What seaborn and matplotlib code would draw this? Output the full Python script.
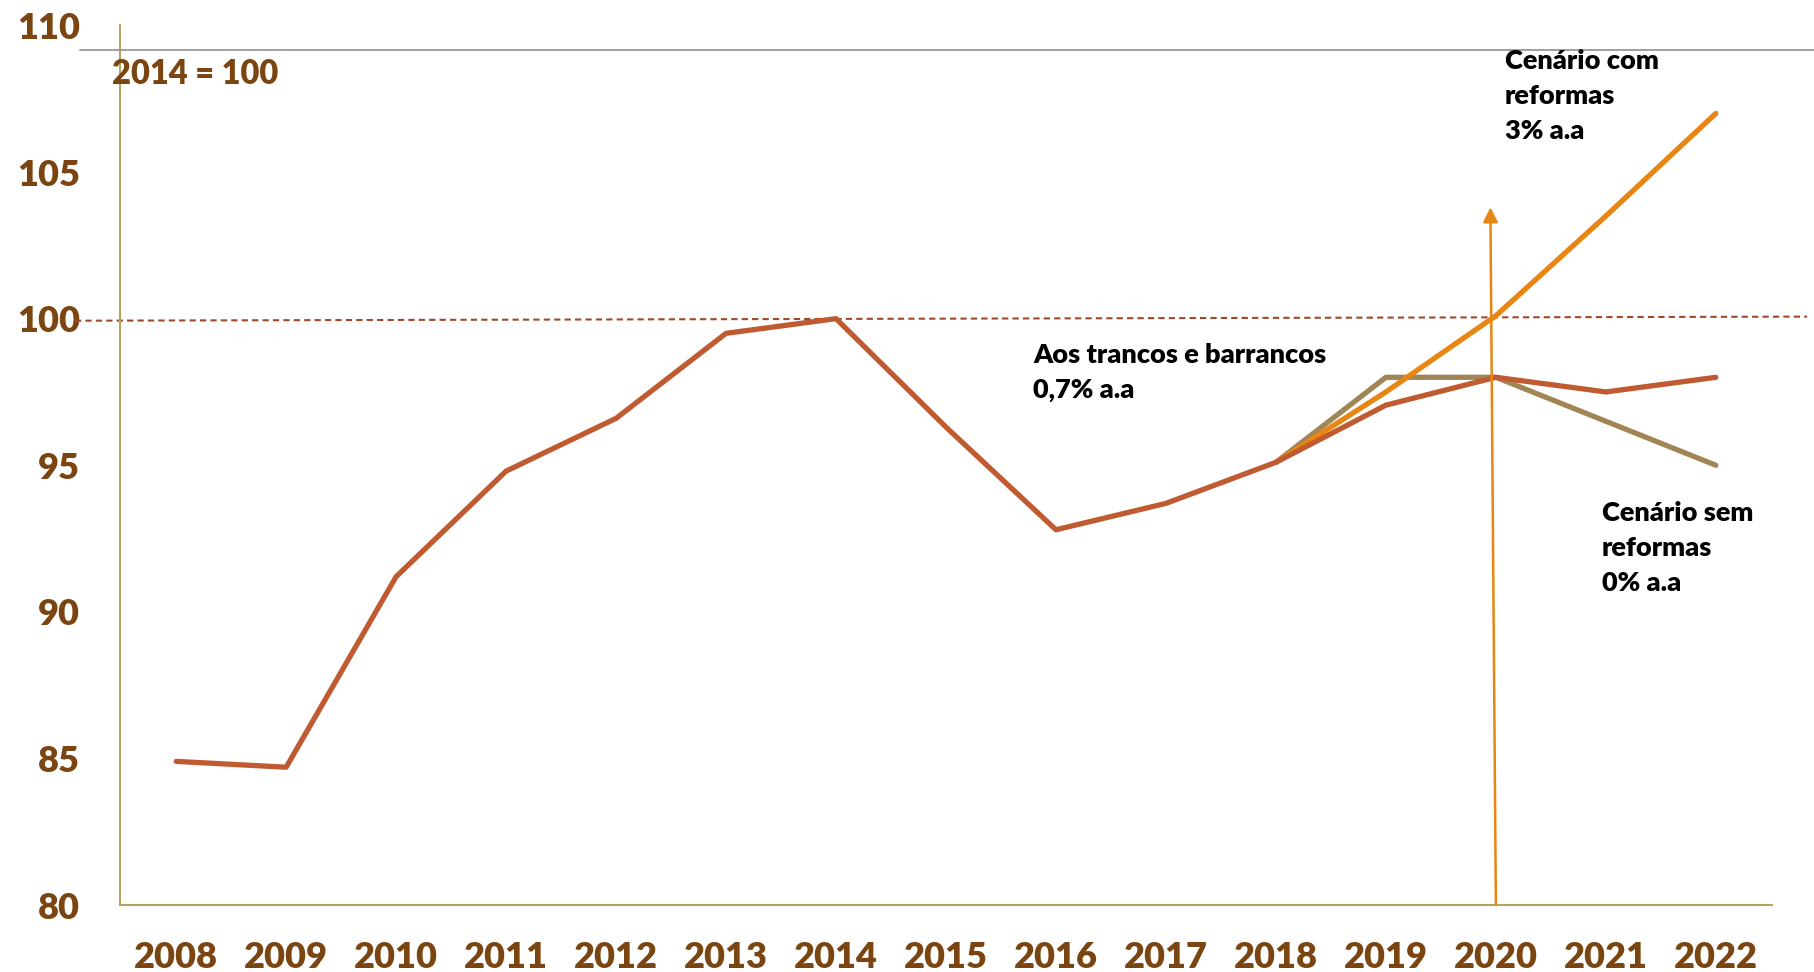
import pandas as pd
import matplotlib
matplotlib.use('Agg')
import matplotlib.pyplot as plt
import seaborn as sns
from matplotlib.lines import Line2D


#Data (index, 2014 = 100)
anos_hist = [2008, 2009, 2010, 2011, 2012, 2013, 2014, 2015, 2016, 2017, 2018]
valores_hist = [84.9, 84.7, 91.2, 94.8, 96.6, 99.5, 100.0, 96.3, 92.8, 93.7, 95.1]

anos_proj = [2019, 2020, 2021, 2022]
trancos = [97.05, 98.0, 97.5, 98.0]
sem_reformas = [98.0, 98.0, 96.5, 95.0]
com_reformas = [97.5, 100.1, 103.5, 107.0]

anos_eixo = list(range(2008, 2023))
yticks = [80, 85, 90, 95, 100, 105, 110]

#Colours
cor_texto = '#7a4510'
cor_trancos = '#c05a30'
cor_sem = '#a08656'
cor_com = '#e88614'
cor_eixo = '#b5a45a'
cor_tracejado = '#a0482a'


#Build a long table for seaborn
partes = []
partes.append(pd.DataFrame({'ano': anos_hist + anos_proj,
                            'valor': valores_hist + trancos,
                            'serie': 'trancos'}))
partes.append(pd.DataFrame({'ano': [anos_hist[-1]] + anos_proj,
                            'valor': [valores_hist[-1]] + sem_reformas,
                            'serie': 'sem'}))
partes.append(pd.DataFrame({'ano': [anos_hist[-1]] + anos_proj,
                            'valor': [valores_hist[-1]] + com_reformas,
                            'serie': 'com'}))
df = pd.concat(partes, ignore_index=True)


#Figure
sns.set_style('white')
plt.rcParams['font.family'] = ['Lato', 'DejaVu Sans']
peso = 'heavy'

fig = plt.figure(figsize=(18.14, 9.72), dpi=100)
ax = fig.add_axes([0.0662, 0.0689, 0.9106, 0.9049])

#Lines (trancos drawn last so it sits on top)
sns.lineplot(data=df, x='ano', y='valor', hue='serie',
             hue_order=['sem', 'com', 'trancos'],
             palette={'sem': cor_sem, 'com': cor_com, 'trancos': cor_trancos},
             linewidth=3.8, legend=False, ax=ax)

#Dashed reference line at 100
ax.plot([2007.08, 2022.83], [99.93, 100.07], ls=(0, (3, 2)), lw=1.5,
        color=cor_tracejado, clip_on=False, zorder=1)

#Vertical arrow at 2020
ax.annotate('', xy=(2019.95, 103.8), xytext=(2020.0, 80),
            arrowprops=dict(arrowstyle='-|>', color=cor_com, lw=1.8,
                            mutation_scale=22, shrinkA=0, shrinkB=0),
            zorder=5)

#Axis setup
ax.set_xlim(2007.49, 2022.51)
ax.set_ylim(80, 110)
ax.set_xticks(anos_eixo)
ax.set_xticklabels([str(a) for a in anos_eixo])
ax.set_yticks(yticks)
ax.set_xlabel('')
ax.set_ylabel('')
ax.tick_params(axis='both', length=0, labelsize=26, labelcolor=cor_texto)
ax.tick_params(axis='y', pad=29)
ax.tick_params(axis='x', pad=26)
for lab in ax.get_xticklabels() + ax.get_yticklabels():
    lab.set_fontweight(peso)

for s in ['top', 'right']:
    ax.spines[s].set_visible(False)
for s in ['left', 'bottom']:
    ax.spines[s].set_color(cor_eixo)
    ax.spines[s].set_linewidth(1.5)

#Texts
ax.text(-0.005, 0.945, '2014 = 100', transform=ax.transAxes, fontsize=23.5,
        fontweight=peso, color=cor_texto, va='center', ha='left')
fig.text(1505 / 1814, 1 - 49 / 972, 'Cenário com\nreformas\n3% a.a',
         fontsize=19.5, fontweight=peso, color='black', va='top',
         ha='left', linespacing=1.55)
fig.text(1033 / 1814, 1 - 343 / 972, 'Aos trancos e barrancos\n0,7% a.a',
         fontsize=19.5, fontweight=peso, color='black', va='top',
         ha='left', linespacing=1.55)
fig.text(1602 / 1814, 1 - 501 / 972, 'Cenário sem\nreformas\n0% a.a',
         fontsize=19.5, fontweight=peso, color='black', va='top',
         ha='left', linespacing=1.55)

#Gray line across the top
fig.add_artist(Line2D([80 / 1814, 1.0], [1 - 50 / 972, 1 - 50 / 972],
                      color='#999999', lw=1.3))

fig.savefig('out.png', dpi=100)
